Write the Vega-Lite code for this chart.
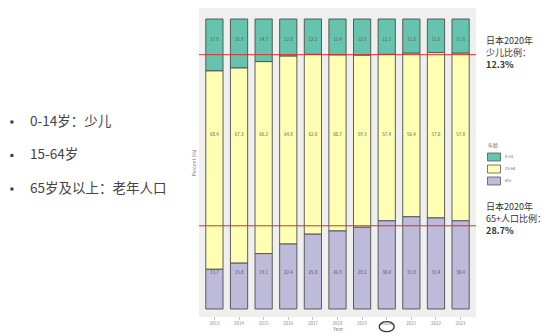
{
  "$schema": "https://vega.github.io/schema/vega-lite/v6.json",
  "padding": {"left": 0, "top": 8, "right": 0, "bottom": 0},
  "spacing": 0,
  "config": {
    "view": {"stroke": null},
    "font": "Noto Sans CJK SC",
    "concat": {"spacing": 0}
  },
  "datasets": {
    "pop": [
      {"year": "2013", "group": "0-14", "pct": 17.9}, {"year": "2013", "group": "15-64", "pct": 68.4}, {"year": "2013", "group": "65+", "pct": 13.7},
      {"year": "2014", "group": "0-14", "pct": 16.9}, {"year": "2014", "group": "15-64", "pct": 67.3}, {"year": "2014", "group": "65+", "pct": 15.8},
      {"year": "2015", "group": "0-14", "pct": 14.7}, {"year": "2015", "group": "15-64", "pct": 66.2}, {"year": "2015", "group": "65+", "pct": 19.1},
      {"year": "2016", "group": "0-14", "pct": 12.8}, {"year": "2016", "group": "15-64", "pct": 64.8}, {"year": "2016", "group": "65+", "pct": 22.4},
      {"year": "2017", "group": "0-14", "pct": 12.2}, {"year": "2017", "group": "15-64", "pct": 62.0}, {"year": "2017", "group": "65+", "pct": 25.8},
      {"year": "2018", "group": "0-14", "pct": 12.4}, {"year": "2018", "group": "15-64", "pct": 60.7}, {"year": "2018", "group": "65+", "pct": 26.9},
      {"year": "2019", "group": "0-14", "pct": 12.5}, {"year": "2019", "group": "15-64", "pct": 59.3}, {"year": "2019", "group": "65+", "pct": 28.2},
      {"year": "2020", "group": "0-14", "pct": 12.2}, {"year": "2020", "group": "15-64", "pct": 57.4}, {"year": "2020", "group": "65+", "pct": 30.4},
      {"year": "2021", "group": "0-14", "pct": 11.8}, {"year": "2021", "group": "15-64", "pct": 56.4}, {"year": "2021", "group": "65+", "pct": 31.8},
      {"year": "2022", "group": "0-14", "pct": 11.6}, {"year": "2022", "group": "15-64", "pct": 57.0}, {"year": "2022", "group": "65+", "pct": 31.4},
      {"year": "2023", "group": "0-14", "pct": 11.8}, {"year": "2023", "group": "15-64", "pct": 57.8}, {"year": "2023", "group": "65+", "pct": 30.4}
    ],
    "bullets": [
      {"order": 1, "label": "0-14岁：少儿"},
      {"order": 2, "label": "15-64岁"},
      {"order": 3, "label": "65岁及以上：老年人口"}
    ],
    "refs": [
      {"block": "child", "level": 87.7, "head": "日本2020年\n少儿比例：", "share": "12.3%"},
      {"block": "old", "level": 28.7, "head": "日本2020年\n65+人口比例：", "share": "28.7%"}
    ]
  },
  "hconcat": [
    {
      "width": 191,
      "height": 309,
      "data": {"name": "bullets"},
      "layer": [
        {
          "mark": {"type": "point", "shape": "square", "size": 9, "filled": true, "color": "#3a3a3a", "opacity": 1},
          "encoding": {
            "x": {"datum": 0, "type": "quantitative", "scale": {"domain": [-0.7, 10.5], "nice": false, "zero": false}, "axis": null},
            "y": {"field": "order", "type": "quantitative", "scale": {"domain": [-2.403, 6.821], "nice": false, "zero": false, "reverse": true}, "axis": null}
          }
        },
        {
          "mark": {"type": "text", "align": "left", "baseline": "middle", "fontSize": 13.5, "color": "#444444"},
          "encoding": {
            "x": {"datum": 1.06, "type": "quantitative"},
            "y": {"field": "order", "type": "quantitative"},
            "text": {"field": "label"}
          }
        }
      ]
    },
    {
      "width": 277,
      "height": 309,
      "view": {"fill": "#efefef", "stroke": null},
      "layer": [
        {
          "data": {"name": "pop"},
          "mark": {"type": "bar", "stroke": "#4d4d4d", "strokeWidth": 0.9},
          "encoding": {
            "x": {
              "field": "year", "type": "nominal",
              "scale": {"paddingInner": 0.3, "paddingOuter": 0.276},
              "axis": {"labelAngle": 0, "labelFontSize": 4.5, "labelColor": "#888888", "ticks": true, "tickSize": 2, "tickColor": "#aaaaaa", "domain": false, "labelPadding": 1, "title": "Year", "titleFontSize": 5, "titleColor": "#777777", "titleFontWeight": "normal", "titlePadding": 2}
            },
            "y": {
              "field": "pct", "type": "quantitative", "stack": "zero",
              "scale": {"domain": [-2.76, 103.8], "nice": false, "zero": false},
              "axis": {"labels": false, "ticks": false, "domain": false, "grid": false, "title": "Percent (%)", "titleFontSize": 5, "titleColor": "#777777", "titleFontWeight": "normal", "titlePadding": 3}
            },
            "color": {
              "field": "group", "type": "nominal",
              "scale": {"domain": ["0-14", "15-64", "65+"], "range": ["#66c4ae", "#ffffb3", "#bebada"]},
              "legend": {
                "orient": "none", "legendX": 488, "legendY": 135,
                "title": "年龄", "titleFontSize": 5, "titleColor": "#666666", "titleFontWeight": "normal", "titlePadding": 3,
                "symbolType": "M-1.24,-0.76H1.24V0.76H-1.24Z", "symbolSize": 110, "symbolStrokeColor": "#555555", "symbolStrokeWidth": 0.8,
                "labelFontSize": 4, "labelColor": "#666666", "labelOffset": 5, "rowPadding": 0, "padding": 0
              }
            },
            "order": {"field": "group", "sort": "descending"}
          }
        },
        {
          "data": {"name": "pop"},
          "transform": [{"filter": "datum.group === '0-14'"}],
          "mark": {"type": "text", "fontSize": 4.5, "color": "#555555", "baseline": "middle"},
          "encoding": {
            "x": {"field": "year", "type": "nominal"},
            "y": {"datum": 92.8, "type": "quantitative"},
            "text": {"field": "pct", "type": "quantitative", "format": ".1f"}
          }
        },
        {
          "data": {"name": "pop"},
          "transform": [{"filter": "datum.group === '15-64'"}],
          "mark": {"type": "text", "fontSize": 4.5, "color": "#555555", "baseline": "middle"},
          "encoding": {
            "x": {"field": "year", "type": "nominal"},
            "y": {"datum": 60, "type": "quantitative"},
            "text": {"field": "pct", "type": "quantitative", "format": ".1f"}
          }
        },
        {
          "data": {"name": "pop"},
          "transform": [{"filter": "datum.group === '65+'"}],
          "mark": {"type": "text", "fontSize": 4.5, "color": "#555555", "baseline": "middle"},
          "encoding": {
            "x": {"field": "year", "type": "nominal"},
            "y": {"datum": 12.4, "type": "quantitative"},
            "text": {"field": "pct", "type": "quantitative", "format": ".1f"}
          }
        },
        {
          "data": {"name": "refs"},
          "mark": {"type": "rule", "color": "#d9302c", "strokeWidth": 1},
          "encoding": {
            "y": {"field": "level", "type": "quantitative"}
          }
        },
        {
          "data": {"values": [{"year": "2020"}]},
          "mark": {"type": "point", "shape": "M-1,0A1,0.67 0 1,0 1,0A1,0.67 0 1,0 -1,0Z", "size": 225, "filled": false, "stroke": "#333333", "strokeWidth": 1.3, "opacity": 1},
          "encoding": {
            "x": {"field": "year", "type": "nominal"},
            "y": {"datum": -6.1, "type": "quantitative"}
          }
        }
      ]
    },
    {
      "width": 70,
      "height": 309,
      "data": {"name": "refs"},
      "layer": [
        {
          "transform": [{"filter": "datum.block === 'child'"}],
          "mark": {"type": "text", "align": "left", "baseline": "middle", "fontSize": 9, "color": "#333333", "lineBreak": "\n", "lineHeight": 12, "dy": -14},
          "encoding": {
            "x": {"datum": 0.13, "type": "quantitative", "scale": {"domain": [0, 1], "nice": false}, "axis": null},
            "y": {"field": "level", "type": "quantitative", "scale": {"domain": [-2.76, 103.8], "nice": false, "zero": false}, "axis": null},
            "text": {"field": "head"}
          }
        },
        {
          "transform": [{"filter": "datum.block === 'child'"}],
          "mark": {"type": "text", "align": "left", "baseline": "middle", "fontSize": 9, "fontWeight": "bold", "color": "#333333", "dy": 10},
          "encoding": {
            "x": {"datum": 0.13, "type": "quantitative"},
            "y": {"field": "level", "type": "quantitative"},
            "text": {"field": "share"}
          }
        },
        {
          "transform": [{"filter": "datum.block === 'old'"}],
          "mark": {"type": "text", "align": "left", "baseline": "middle", "fontSize": 9, "color": "#333333", "lineBreak": "\n", "lineHeight": 12, "dy": -19},
          "encoding": {
            "x": {"datum": 0.13, "type": "quantitative"},
            "y": {"field": "level", "type": "quantitative"},
            "text": {"field": "head"}
          }
        },
        {
          "transform": [{"filter": "datum.block === 'old'"}],
          "mark": {"type": "text", "align": "left", "baseline": "middle", "fontSize": 9, "fontWeight": "bold", "color": "#333333", "dy": 5},
          "encoding": {
            "x": {"datum": 0.13, "type": "quantitative"},
            "y": {"field": "level", "type": "quantitative"},
            "text": {"field": "share"}
          }
        }
      ]
    }
  ]
}
